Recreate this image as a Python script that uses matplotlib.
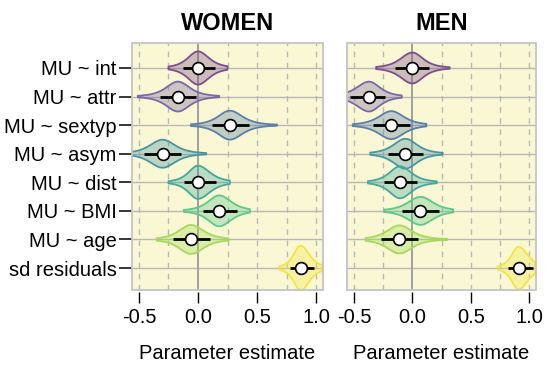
import numpy as np
import matplotlib
matplotlib.use("Agg")
import matplotlib.pyplot as plt
from matplotlib.patches import Rectangle

plt.rcParams['font.family'] = ['Liberation Sans', 'DejaVu Sans']

labels = ["MU ~ int", "MU ~ attr", "MU ~ sextyp", "MU ~ asym",
          "MU ~ dist", "MU ~ BMI", "MU ~ age", "sd residuals"]

# WOMEN: median, thick interval, full range
women_median = [0.00, -0.17, 0.27, -0.30, 0.00, 0.18, -0.06, 0.87]
women_q25 = [-0.13, -0.32, 0.12, -0.46, -0.12, 0.04, -0.21, 0.78]
women_q75 = [0.14, -0.02, 0.43, -0.14, 0.15, 0.33, 0.10, 0.98]
women_lo = [-0.25, -0.51, -0.06, -0.60, -0.25, -0.12, -0.35, 0.69]
women_hi = [0.25, 0.18, 0.67, 0.07, 0.27, 0.44, 0.26, 1.05]

# MEN
men_median = [0.00, -0.37, -0.18, -0.06, -0.105, 0.07, -0.11, 0.91]
men_q25 = [-0.15, -0.53, -0.34, -0.21, -0.24, -0.09, -0.27, 0.82]
men_q75 = [0.14, -0.23, -0.02, 0.09, 0.04, 0.23, 0.05, 1.03]
men_lo = [-0.31, -0.60, -0.51, -0.36, -0.38, -0.24, -0.40, 0.73]
men_hi = [0.32, -0.09, 0.12, 0.26, 0.21, 0.35, 0.30, 1.05]

xticks = [-0.5, 0.0, 0.5, 1.0]
xtick_labels = ["-0.5", "0.0", "0.5", "1.0"]

edge_colors = ["#7e4d8e", "#7a68a6", "#5c7ea9", "#4796a3",
               "#43a99c", "#5cc88a", "#a6d95a", "#f3e446"]
bg = "#faf8d4"
grid_c = "#b8b8b8"
FS = 14.5

def draw_violin(ax, y, med, q25, q75, lo, hi, color, K=0.056, nu=3.0, q=1.4):
    sL = (med - q25) / q
    sR = (q75 - med) / q
    H = K / ((sL + sR) / 2)
    x = np.linspace(lo, hi, 400)
    s = np.where(x < med, sL, sR)
    z = (x - med) / s
    g = (1 + z ** 2 / nu) ** (-(nu + 1) / 2)
    h = H * g
    ax.fill_between(x, y - h, y + h, facecolor=color, alpha=0.35,
                    edgecolor='none', zorder=3)
    ax.fill_between(x, y - h, y + h, facecolor='none',
                    edgecolor=color, lw=1.3, zorder=4)
    ax.plot([q25, q75], [y, y], color='black', lw=2.0,
            solid_capstyle='butt', zorder=5)
    ax.plot([med], [y], 'o', mfc='white', mec='black', ms=8.5, mew=1.2, zorder=6)

fig = plt.figure(figsize=(5.5, 3.72), dpi=100)
ax1 = fig.add_axes([132/550, 1-290/372, (323-132)/550, (290-43)/372])
ax2 = fig.add_axes([347/550, 1-290/372, (536-347)/550, (290-43)/372])

ys = np.arange(1, len(labels) + 1)

panels = [
    (ax1, "WOMEN", women_median, women_q25, women_q75, women_lo, women_hi),
    (ax2, "MEN", men_median, men_q25, men_q75, men_lo, men_hi),
]

for ax, title, med, q25, q75, lo, hi in panels:
    ax.set_facecolor(bg)
    ax.set_xlim(-0.559, 1.059)
    ax.set_ylim(8.77, 0.125)
    for v in [-0.5, -0.25, 0.25, 0.5, 0.75, 1.0]:
        ax.axvline(v, color=grid_c, lw=1.0, ls=(0, (4, 4)), zorder=1)
    for yy in ys:
        ax.axhline(yy, color=grid_c, lw=1.0, zorder=1)
    ax.axvline(0, color="#a0a0a0", lw=1.4, zorder=2)
    for i in range(len(labels)):
        draw_violin(ax, ys[i], med[i], q25[i], q75[i], lo[i], hi[i], edge_colors[i])
    for sp in ax.spines.values():
        sp.set_visible(False)
    ax.spines['bottom'].set_position(('outward', 1.5))
    ax.add_patch(Rectangle((0, 0), 1, 1, transform=ax.transAxes, fill=False,
                           edgecolor="#c4c4c4", lw=1.3, zorder=10, clip_on=False))
    ax.set_xticks(xticks, xtick_labels)
    ax.tick_params(axis='x', length=7.9, width=1.0, pad=3.5, labelsize=FS, color='black')
    ax.set_xlabel("Parameter estimate", fontsize=FS, labelpad=12)
    ax.set_title(title, fontsize=17, fontweight='bold', pad=9)

ax1.set_yticks(ys, labels)
ax1.tick_params(axis='y', length=9.4, width=1.1, pad=1.5, labelsize=FS)
for tick, c in zip(ax1.yaxis.get_major_ticks(), edge_colors):
    tick.tick1line.set_color(c)
ax2.set_yticks(ys)
ax2.tick_params(axis='y', left=False, labelleft=False)

fig.savefig("out.png", dpi=100)
